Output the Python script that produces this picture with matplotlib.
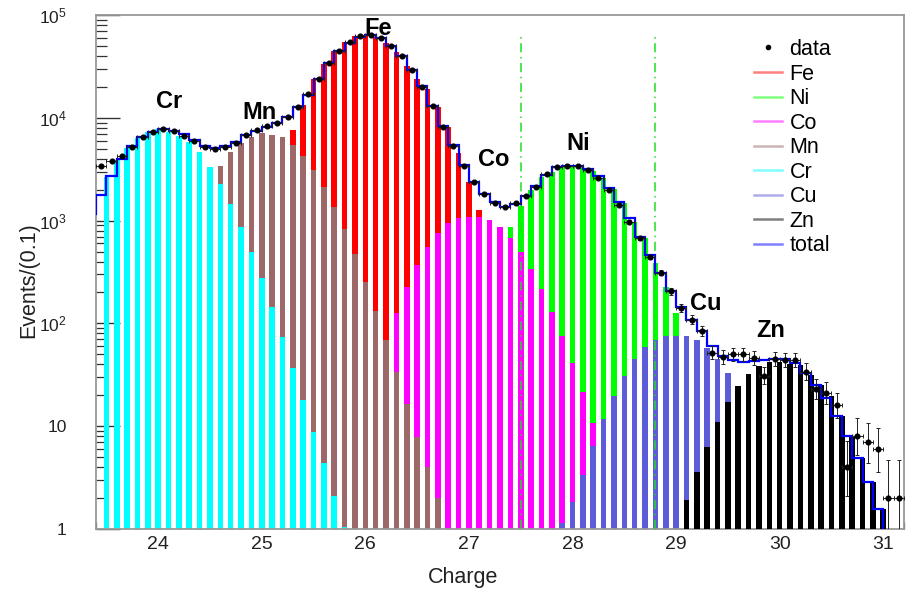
#!/usr/bin/env python3
# -*- coding: utf-8 -*-

import numpy as np
import matplotlib
matplotlib.use("Agg")
import matplotlib.pyplot as plt
from matplotlib.lines import Line2D
from matplotlib.ticker import MultipleLocator, LogLocator, FuncFormatter, NullFormatter

plt.rcParams['font.family'] = ['Liberation Sans', 'DejaVu Sans']
plt.rcParams['mathtext.fontset'] = 'custom'
plt.rcParams['mathtext.rm'] = 'Liberation Sans'
plt.rcParams['mathtext.it'] = 'Liberation Sans:italic'
plt.rcParams['mathtext.bf'] = 'Liberation Sans:bold'

# fitted templates, one bar per bin edge (bin width 0.1), visible part only
fe_start = 25.3
fe = [7600, 13300, 24000, 33100, 44700, 55000, 62500, 63900, 61000, 53800,
      44000, 32000, 24000, 19000, 12800, 8200, 4520, 2390, 1270]
ni_start = 27.4
ni = [873, 1387, 1985, 2670, 2990, 3340, 3340, 3230, 3060, 2580, 2010, 1473,
      975, 673, 384, 228, 125]
co_start = 26.3
co = [126, 226, 370, 557, 752, 942, 1052, 1077, 1090, 1010, 873, 673, 498,
      336, 215, 130, 75, 41, 21.7, 10.8]
mn_start = 24.6
mn = [3420, 4620, 5650, 6550, 7060, 6810, 6460, 5440, 4250, 3100, 2140, 1345,
      823, 473, 255, 133, 69, 34, 16.4, 7.9, 4.0, 2.0]
cr_start = 23.5
cr = [2640, 3880, 5050, 6410, 7230, 7730, 7320, 6650, 5860, 4680, 3300, 2255,
      1450, 873, 498, 275, 145, 74, 37, 18, 8.7, 4.4, 2.1, 1.05]
cu_start = 27.9
cu = [1.15, 1.85, 3.35, 6.4, 11.7, 19.7, 30.8, 44.8, 58.5, 69, 75.4, 75.4,
      75.4, 69, 57, 45, 32.7]
zn_start = 29.1
zn = [1.9, 3.6, 6.3, 10.9, 17.3, 24.6, 32, 38.5, 42, 42.4, 40.6, 39, 31.8,
      25.2, 19.8, 12.7, 7.9, 4.9, 2.85, 1.58]

# total fit, one value per bin starting at 23.3
total_start = 23.3
total = [1150, 1775, 2716, 3950, 5320, 6550, 7320, 7730, 7500, 6910, 6080,
         5320, 5050, 5320, 5860, 6800, 7500, 8200, 8840, 10250, 12800, 16800,
         23600, 34000, 44600, 54000, 61500, 63500, 59300, 49900, 40200, 29500,
         20500, 13000, 8400, 5400, 3500, 2400, 1800, 1500, 1370, 1450, 1720,
         2150, 2800, 3300, 3420, 3420, 3150, 2716, 2060, 1527, 1052, 697, 458,
         312, 206, 144, 108, 85, 60, 48, 44, 42, 43, 44, 45, 45, 41.5, 32.7,
         25.2, 19, 12.7, 8, 4.9, 2.85, 1.58]

# measured counts at bin centres starting at 23.45
data_start = 23.45
data = [3400, 3780, 4280, 5200, 6550, 7300, 7760, 7360, 6700, 5900, 5150,
        4940, 5200, 5750, 6750, 7600, 8300, 8840, 10250, 12700, 17000, 23600,
        34000, 44600, 54100, 61800, 63400, 59300, 49900, 40200, 29200, 20100,
        13000, 8200, 5320, 3420, 2360, 1815, 1490, 1365, 1470, 1735, 2140,
        2840, 3340, 3420, 3420, 3080, 2580, 1985, 1420, 975, 673, 440, 310,
        205, 140, 108, 84, 52, 47, 50, 50, 46, 31, 45, 44, 44, 34, 23, 21, 16,
        4, 8, 7, 6, 2, 2]

# selection window
cuts = [27.5, 28.8]

labels = ['Cr', 'Mn', 'Fe', 'Co', 'Ni', 'Cu', 'Zn']
label_pos = [(24.11, 12370), (24.98, 9670), (26.12, 63900), (27.24, 3400),
             (28.05, 4860), (29.29, 136), (29.91, 73.8)]

colors = {'Fe': '#ff0000', 'Ni': '#00ff00', 'Co': '#ff00ff', 'Mn': '#9c6868',
          'Cr': '#00ffff', 'Cu': '#5c5cd8', 'Zn': '#000000'}


def draw_component(ax, start, values, color, z):
    x = start + 0.1 * np.arange(len(values))
    v = np.asarray(values, dtype=float)
    floor = 0.01
    ax.bar(x, v - floor, bottom=floor, width=0.054, color=color,
           linewidth=0, zorder=z)


def main():
    fig = plt.figure(figsize=(9.17, 5.89), dpi=100)
    ax = fig.add_axes([96 / 917, 1 - 529 / 589, 808 / 917, 514 / 589])

    # draw order matters: later templates cover earlier ones
    comps = [('Fe', fe_start, fe), ('Ni', ni_start, ni), ('Co', co_start, co),
             ('Mn', mn_start, mn), ('Cr', cr_start, cr), ('Cu', cu_start, cu),
             ('Zn', zn_start, zn)]
    for i, (name, start, vals) in enumerate(comps):
        draw_component(ax, start, vals, colors[name], 2 + 0.1 * i)

    ax.vlines(cuts, 1, 6.2e4, colors='#22dd22', linestyles=(0, (6, 3, 1, 3)),
              linewidth=1.1, zorder=3)

    edges = total_start + 0.1 * np.arange(len(total) + 1)
    ax.stairs(total, edges, baseline=0.3, color='#0000ff', linewidth=1.6,
              zorder=4)

    n = np.asarray(data, dtype=float)
    dx = data_start + 0.1 * np.arange(len(n))
    lo = n - n * (1 - 1 / (9 * n) - 1 / (3 * np.sqrt(n))) ** 3
    hi = np.sqrt(n + 0.75) + 1
    ax.errorbar(dx, n, yerr=[lo, hi], xerr=0.05, fmt='o', ms=3.4,
                color='black', ecolor='#222222', elinewidth=0.7, capsize=1.3,
                capthick=0.7, zorder=5)

    for name, (x, y) in zip(labels, label_pos):
        ax.text(x, y, name, ha='center', va='baseline', fontsize=17,
                fontweight='bold', zorder=6)

    ax.set_yscale('log')
    ax.set_xlim(23.4, 31.2)
    ax.set_ylim(1, 1e5)

    ax.xaxis.set_major_locator(MultipleLocator(1))
    ax.xaxis.set_minor_locator(MultipleLocator(0.2))
    ax.yaxis.set_major_locator(LogLocator(base=10, numticks=10))
    ax.yaxis.set_minor_locator(LogLocator(base=10, subs=np.arange(2, 10), numticks=20))
    ax.yaxis.set_minor_formatter(NullFormatter())

    def ylab(v, pos):
        e = int(round(np.log10(v)))
        if e == 0:
            return '1'
        if e == 1:
            return '10'
        return r'$10^{%d}$' % e

    ax.yaxis.set_major_formatter(FuncFormatter(ylab))

    ax.tick_params(axis='both', which='both', direction='in', top=False,
                   right=False, colors='#333333', labelcolor='#222222')
    ax.tick_params(axis='y', which='major', length=17, width=1.0, pad=21,
                   labelsize=12.5)
    ax.tick_params(axis='y', which='minor', length=8, width=0.9)
    ax.tick_params(axis='x', which='major', length=10, width=1.0, pad=5,
                   labelsize=14)
    ax.tick_params(axis='x', which='minor', length=5, width=0.9)
    for s in ax.spines.values():
        s.set_color('#999999')
        s.set_linewidth(1.3)

    fig.text(463 / 917, 1 - 577 / 589, 'Charge', ha='center', va='center',
             fontsize=15.5, color='#222222')
    fig.text(29 / 917, 1 - 280 / 589, 'Events/(0.1)', ha='center',
             va='center', rotation=90, fontsize=15.5, color='#222222')

    handles = [Line2D([], [], ls='none', marker='o', ms=3, color='black')]
    leg_colors = ['#ff0000', '#00ff00', '#ff00ff', '#9c6868', '#00ffff',
                  '#5c5cd8', '#000000', '#0000ff']
    for c in leg_colors:
        handles.append(Line2D([], [], color=c, lw=1.8, alpha=0.5))
    names = ['data', 'Fe', 'Ni', 'Co', 'Mn', 'Cr', 'Cu', 'Zn', 'total']
    ax.legend(handles, names, loc='upper left',
              bbox_to_anchor=(754 / 917, 1 - 39 / 589),
              bbox_transform=fig.transFigure, frameon=False, fontsize=15.5,
              handlelength=1.3, handletextpad=0.35, labelspacing=0.165,
              borderpad=0, borderaxespad=0)

    plt.savefig('out.png', dpi=100)


if __name__ == "__main__":
    main()
